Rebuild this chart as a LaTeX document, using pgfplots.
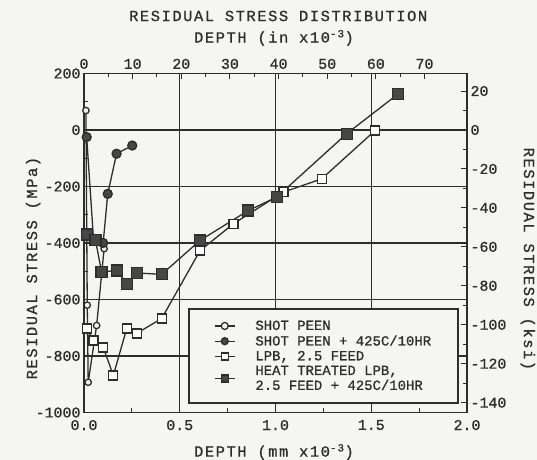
\documentclass[border=0pt]{standalone}
\usepackage{pgfplots}
\pgfplotsset{compat=1.18}
\usepackage{fontspec}
\setmainfont[FakeBold=0.8]{Liberation Mono}
\newfontfamily\spaced[LetterSpace=10,FakeBold=0.8]{Liberation Mono}
\definecolor{ink}{RGB}{45,45,45}
\definecolor{markfill}{RGB}{70,70,70}
\definecolor{paper}{RGB}{245,245,243}
\newcommand{\tickfont}{\fontsize{15}{16}\selectfont}
\newcommand{\labfont}{\fontsize{15.5}{17}\selectfont\spaced}
\pgfplotsset{
  common/.style={
    at={(0,0)}, anchor=south west, width=383bp, height=339bp, scale only axis,
    tick align=inside, major tick length=6bp, minor tick length=4bp,
    tick style={ink, line width=1pt},
    tick label style={font=\tickfont, text=ink},
    /pgf/number format/assume math mode=true,
    /pgf/number format/1000 sep={},
    label style={font=\labfont, text=ink},
  },
  series/.style={ink, line width=1.3pt, mark options={solid, line width=1pt, draw=ink}},
}
\begin{document}
\begin{tikzpicture}[x=1bp,y=1bp]
\fill[paper] (-84,-47.5) rectangle (453,412.5);
\useasboundingbox (-84,-47.5) rectangle (453,412.5);
% top axis (inches)
\begin{axis}[common,
  xmin=0, xmax=78.740157, ymin=0, ymax=1,
  axis x line*=top, axis y line=none,
  axis line style={ink, line width=1.4pt},
  xtick={0,10,...,70}, minor x tick num=1,
  xticklabel style={yshift=1bp},
  xlabel={DEPTH (in x10\textsuperscript{-3})},
  xlabel style={at={(axis description cs:0.496,1.105)}, anchor=center},
  title={RESIDUAL STRESS DISTRIBUTION},
  title style={at={(axis description cs:0.507,1.152)}, anchor=center, font=\labfont, text=ink},
]
\end{axis}
% right axis (ksi)
\begin{axis}[common,
  xmin=0, xmax=1, ymin=-145.0377, ymax=29.0075,
  axis y line*=right, axis x line=none,
  axis line style={ink, line width=1.4pt},
  ytick={-140,-120,...,20}, minor y tick num=1,
  ylabel={RESIDUAL STRESS (ksi)},
  ylabel style={at={(axis description cs:1.159,0.453)}, anchor=center, rotate=180},
]
\end{axis}
% main axis
\begin{axis}[common,
  xmin=0, xmax=2, ymin=-1000, ymax=200,
  axis line style={ink, line width=1.4pt},
  xtick pos=bottom, ytick pos=left,
  xtick={0,0.5,...,2}, minor x tick num=1,
  xticklabel style={yshift=-4bp, /pgf/number format/.cd, fixed, fixed zerofill, precision=1},
  ytick={-1000,-800,...,200}, minor y tick num=1,
  xmajorgrids, ymajorgrids,
  every axis x grid/.append style={ink, line width=0.9pt},
  every axis y grid/.append style={ink, line width=1.3pt},
  xlabel={DEPTH (mm x10\textsuperscript{-3})},
  xlabel style={at={(axis description cs:0.496,-0.1165)}, anchor=center},
  ylabel={RESIDUAL STRESS (MPa)},
  ylabel style={at={(axis description cs:-0.133,0.426)}, anchor=center},
  legend cell align=left,
  legend image code/.code={\draw[mark repeat=2,mark phase=2,#1] plot coordinates {(0bp,0bp) (10bp,0bp) (20bp,0bp)};},
  legend image post style={mark size=3.5bp},
  legend style={at={(0.979,0.026)}, anchor=south east, draw=ink, line width=1.6pt,
    fill=paper, font=\fontsize{14}{15}\selectfont, text=ink,
    cells={align=left}, inner xsep=25bp, inner ysep=9.5bp, row sep=0bp,
    /tikz/every odd column/.append style={column sep=18bp}},
]
\addplot[series, mark=*, mark size=3.2bp, mark options={fill=paper}] coordinates {
  (0.010,69) (0.017,-620) (0.022,-893) (0.066,-692) (0.105,-420)
};
\addlegendentry{SHOT PEEN}
\addplot[series, mark=*, mark size=4.5bp, mark options={fill=markfill}] coordinates {
  (0.014,-25) (0.050,-390) (0.100,-400) (0.124,-226) (0.170,-84) (0.252,-55)
};
\addlegendentry{SHOT PEEN + 425C/10HR}
\addplot[series, mark=square*, mark size=4.5bp, mark options={fill=white}] coordinates {
  (0.014,-703) (0.049,-745) (0.101,-770) (0.153,-869) (0.223,-703) (0.275,-720)
  (0.406,-667) (0.606,-427) (0.780,-332) (1.041,-220) (1.241,-173) (1.520,-2)
};
\addlegendentry{LPB, 2.5 FEED}
\addplot[series, mark=square*, mark size=5.5bp, mark options={fill=markfill}] coordinates {
  (0.014,-370) (0.060,-390) (0.092,-503) (0.171,-497) (0.223,-544) (0.275,-506)
  (0.406,-511) (0.606,-391) (0.858,-285) (1.006,-238) (1.372,-13) (1.641,128)
};
\addlegendentry{HEAT TREATED LPB,\\2.5 FEED + 425C/10HR}
\end{axis}
\end{tikzpicture}
\end{document}
